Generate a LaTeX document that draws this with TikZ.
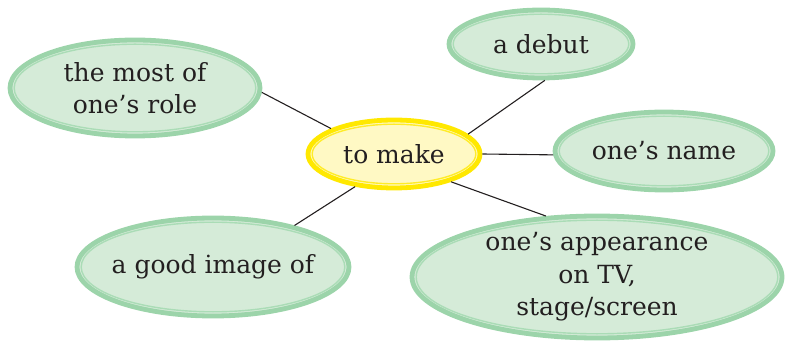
\documentclass[tikz,border=0pt]{standalone}
\usepackage{fontspec}
\setmainfont{DejaVu Serif}
\usetikzlibrary{shapes.geometric,calc}

\definecolor{leafline}{RGB}{156,212,170}
\definecolor{leafring}{RGB}{170,220,182}
\definecolor{leaffill}{RGB}{213,235,216}
\definecolor{hubline}{RGB}{255,232,0}
\definecolor{hubring}{RGB}{255,236,40}
\definecolor{hubfill}{RGB}{255,249,196}
\definecolor{ink}{RGB}{35,31,32}

\tikzset{
  leaf/.style={ellipse, draw=leafline, line width=2.4pt, fill=leaffill, text=ink, align=center, inner sep=-5pt, font=\fontsize{12.5}{16.25}\selectfont},
  hub/.style={leaf, draw=hubline, fill=hubfill},
}

\begin{document}
\begin{tikzpicture}[x=0.5pt, y=-0.5pt]
\useasboundingbox (0, 0) rectangle (785, 341);

\node at (394, 154) [hub, minimum width=86pt, minimum height=34pt] (make) {to make};
\node at (135, 88) [leaf, minimum width=125pt, minimum height=48pt] (most) {the most of\\one’s role};
\node at (541, 44) [leaf, minimum width=92pt, minimum height=34pt] (debut) {a debut};
\node at (664, 151) [leaf, minimum width=109pt, minimum height=39pt] (name) {one’s name};
\node at (213, 267) [leaf, minimum width=136pt, minimum height=49pt] (image) {a good image of};
\node at (597, 277) [leaf, minimum width=185pt, minimum height=61pt] (appearance) {one’s appearance\\on TV,\\stage/screen};

% inner rings
\foreach \nd/\c in {make/hubring, most/leafring, debut/leafring, name/leafring, image/leafring, appearance/leafring}
  \draw[\c, line width=0.7pt] let \p1=($(\nd.east)-(\nd.center)$), \p2=($(\nd.north)-(\nd.center)$) in
    (\nd.center) ellipse ({\x1-3.3pt} and {\y2-3.3pt});

\draw[line width=0.55pt, ink] (most.-2) -- (make.158);
\draw[line width=0.55pt, ink] (debut.-84) -- (make.15);
\draw[line width=0.55pt, ink] (name.182) -- (make.east);
\draw[line width=0.55pt, ink] (image.27) -- (make.220);
\draw[line width=0.55pt, ink] (appearance.130) -- (make.-26);
\end{tikzpicture}
\end{document}
